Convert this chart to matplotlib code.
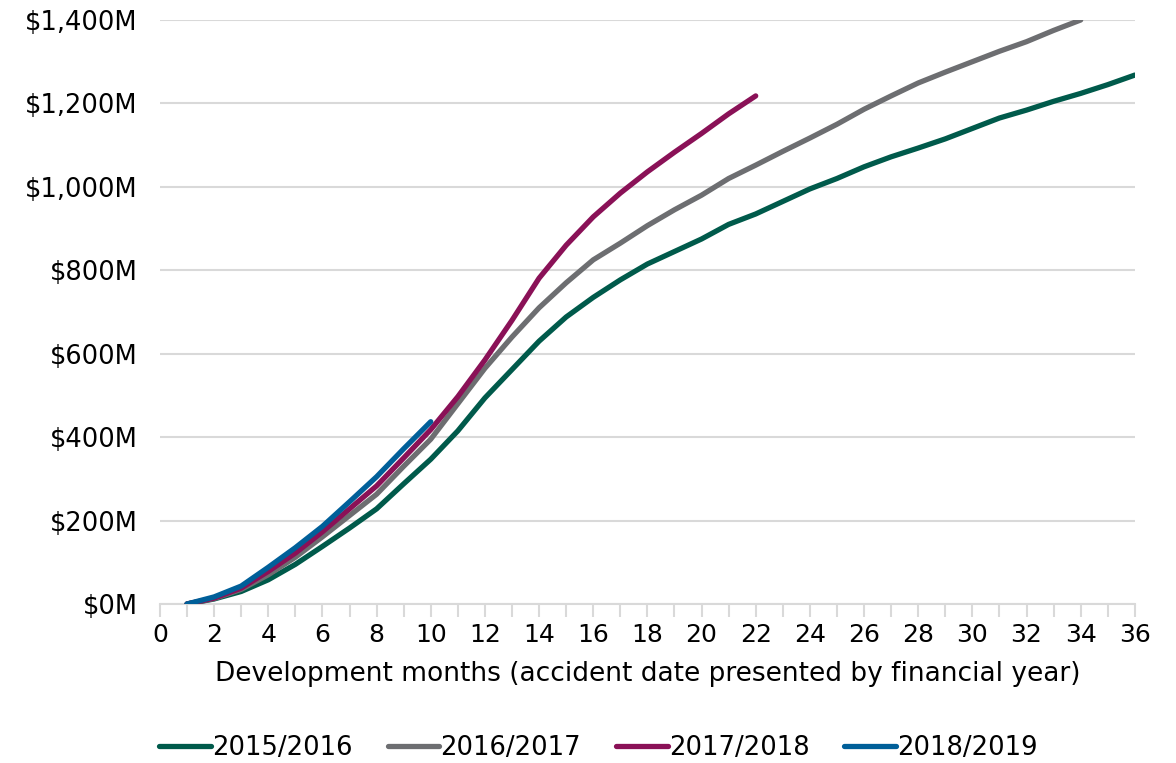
import matplotlib.pyplot as plt
from matplotlib.ticker import MultipleLocator, FuncFormatter

plt.rcParams['font.family'] = ['DejaVu Sans']

# cumulative claims cost ($M) by development month
months_1516 = list(range(1, 37))
cost_1516 = [0, 12, 30, 58, 95, 138, 182, 228, 288, 347, 415, 494, 562, 630, 688,
             735, 777, 815, 845, 875, 910, 935, 965, 995, 1020, 1048, 1072, 1093,
             1115, 1140, 1165, 1184, 1205, 1224, 1245, 1268]

months_1617 = list(range(1, 35))
cost_1617 = [0, 13, 35, 70, 112, 161, 212, 263, 330, 395, 480, 565, 640, 710, 770,
             825, 865, 907, 945, 980, 1020, 1052, 1085, 1117, 1150, 1186, 1218,
             1249, 1275, 1300, 1325, 1348, 1375, 1400]

months_1718 = list(range(1, 23))
cost_1718 = [0, 14, 38, 78, 122, 173, 228, 283, 350, 418, 497, 585, 680, 781, 860,
             928, 985, 1036, 1083, 1128, 1175, 1218]

months_1819 = list(range(1, 11))
cost_1819 = [0, 17, 43, 88, 135, 186, 245, 305, 372, 437]

labels = ['2015/2016', '2016/2017', '2017/2018', '2018/2019']
colors = ['#005A4B', '#6D6E71', '#8A1157', '#005F99']

fig = plt.figure(figsize=(11.76, 7.63), dpi=100)
ax = fig.add_axes([0.136, 0.2084, 0.829, 0.7654])

series = [(months_1516, cost_1516), (months_1617, cost_1617),
          (months_1718, cost_1718), (months_1819, cost_1819)]
for (x, y), lab, c in zip(series, labels, colors):
    ax.plot(x, y, color=c, lw=3.8, label=lab, solid_capstyle='round', zorder=3)

ax.set_xlim(0, 36)
ax.set_ylim(0, 1400)
ax.xaxis.set_major_locator(MultipleLocator(2))
ax.xaxis.set_minor_locator(MultipleLocator(1))
ax.yaxis.set_major_locator(MultipleLocator(200))
ax.yaxis.set_major_formatter(FuncFormatter(lambda v, p: '${:,.0f}M'.format(v)))

ax.grid(axis='y', color='#D9D9D9', lw=1.5)
ax.set_axisbelow(True)
for s in ['top', 'right', 'left']:
    ax.spines[s].set_visible(False)
ax.spines['bottom'].set_color('#D9D9D9')
ax.spines['bottom'].set_linewidth(1.5)

ax.tick_params(axis='x', which='both', direction='out', length=9, width=1.5,
               color='#D9D9D9', labelsize=18, pad=5)
ax.tick_params(axis='y', length=0, labelsize=18.5, pad=16)

ax.set_xlabel('Development months (accident date presented by financial year)',
              fontsize=19, labelpad=10)

ax.legend(loc='upper center', bbox_to_anchor=(0.45, -0.185), ncol=4, frameon=False,
          fontsize=18.6, handlelength=2.0, handletextpad=0.05, columnspacing=1.35)

fig.savefig('out.png', dpi=100)
